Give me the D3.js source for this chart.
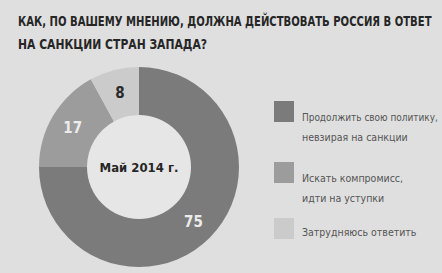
<!DOCTYPE html>
<html>
<head>
<meta charset="utf-8">
<script src="https://cdn.jsdelivr.net/npm/d3@7"></script>
<style>
  body { margin: 0; background: #dfdfdf; }
  svg { display: block; }
</style>
</head>
<body>
<div id="chart"></div>
<script>
var titleLines = ["КАК, ПО ВАШЕМУ МНЕНИЮ, ДОЛЖНА ДЕЙСТВОВАТЬ РОССИЯ В ОТВЕТ", "НА САНКЦИИ СТРАН ЗАПАДА?"];
var categories = ["Продолжить свою политику, невзирая на санкции", "Искать компромисс, идти на уступки", "Затрудняюсь ответить"];
var legendLines = [["Продолжить свою политику,", "невзирая на санкции"], ["Искать компромисс,", "идти на уступки"], ["Затрудняюсь ответить"]];
var values = [75, 17, 8];
var centerLabel = "Май 2014 г.";

var width = 442, height = 273;
var colors = ["#7b7b7b", "#9c9c9c", "#cbcbcb"];
var labelColors = ["#ececec", "#ececec", "#2a2a2a"];

var svg = d3.select("#chart").append("svg")
    .attr("width", width)
    .attr("height", height);

svg.append("rect")
    .attr("width", width)
    .attr("height", height)
    .attr("fill", "#dfdfdf");

// shrink font size until the text fits in maxWidth
function fitText(sel, maxWidth) {
    sel.each(function () {
        var node = this;
        var size = parseFloat(d3.select(node).attr("font-size"));
        var w = node.getComputedTextLength();
        if (w > maxWidth) {
            d3.select(node).attr("font-size", (size * maxWidth / w).toFixed(2));
        }
    });
}

// Title
var title = svg.append("g").selectAll("text")
    .data(titleLines)
    .enter().append("text")
    .attr("transform", function (d, i) { return "translate(18," + (26 + i * 23) + ") scale(1,1.2)"; })
    .attr("font-family", "DejaVu Sans Condensed, sans-serif")
    .attr("font-weight", "bold")
    .attr("font-size", 12)
    .attr("fill", "#262626")
    .text(function (d) { return d; });
fitText(title, 414);

// Donut
var cx = 139, cy = 167;
var pie = d3.pie().sort(null).value(function (d) { return d; });
var arc = d3.arc().innerRadius(52).outerRadius(100);
var labelArc = d3.arc().innerRadius(77).outerRadius(77);

var g = svg.append("g").attr("transform", "translate(" + cx + "," + cy + ")");

g.append("circle").attr("r", 52).attr("fill", "#e6e6e6");

var arcs = pie(values);
g.selectAll("path")
    .data(arcs)
    .enter().append("path")
    .attr("d", arc)
    .attr("fill", function (d, i) { return colors[i]; });

g.selectAll("text.val")
    .data(arcs)
    .enter().append("text")
    .attr("class", "val")
    .attr("transform", function (d) { return "translate(" + labelArc.centroid(d) + ")"; })
    .attr("dy", "0.36em")
    .attr("text-anchor", "middle")
    .attr("font-family", "DejaVu Sans Condensed, sans-serif")
    .attr("font-weight", "bold")
    .attr("font-size", 15)
    .attr("fill", function (d, i) { return labelColors[i]; })
    .text(function (d) { return d.data; });

g.append("text")
    .attr("dy", "0.36em")
    .attr("text-anchor", "middle")
    .attr("font-family", "DejaVu Sans Condensed, sans-serif")
    .attr("font-weight", "bold")
    .attr("font-size", 13)
    .attr("fill", "#262626")
    .text(centerLabel);

// Legend
var legendY = [101, 162, 218];
var legend = svg.append("g").selectAll("g")
    .data(categories)
    .enter().append("g")
    .attr("transform", function (d, i) { return "translate(274," + legendY[i] + ")"; });

legend.append("rect")
    .attr("width", 20)
    .attr("height", 21)
    .attr("fill", function (d, i) { return colors[i]; });

legend.each(function (d, i) {
    var lines = d3.select(this).selectAll("text")
        .data(legendLines[i])
        .enter().append("text")
        .attr("x", 28)
        .attr("y", function (t, j) { return (i == 2 ? 18 : 20) + j * 20; })
        .attr("font-family", "DejaVu Sans Condensed, sans-serif")
        .attr("font-size", 10.5)
        .attr("fill", "#555")
        .text(function (t) { return t; });
    fitText(lines, 136);
});
</script>
</body>
</html>
